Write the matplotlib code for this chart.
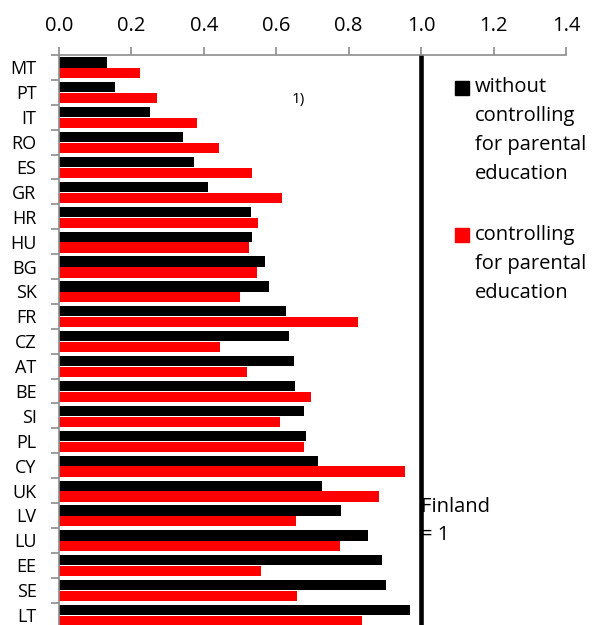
import numpy as np
import matplotlib
matplotlib.use("Agg")
import matplotlib.pyplot as plt
from matplotlib.patches import Rectangle

plt.rcParams['font.family'] = ['Open Sans', 'DejaVu Sans']

# Данные: индекс относительно Финляндии (= 1)
countries = ['MT', 'PT', 'IT', 'RO', 'ES', 'GR', 'HR', 'HU', 'BG', 'SK', 'FR', 'CZ',
             'AT', 'BE', 'SI', 'PL', 'CY', 'UK', 'LV', 'LU', 'EE', 'SE', 'LT']
without_ctrl = [0.132, 0.156, 0.253, 0.342, 0.373, 0.411, 0.530, 0.533, 0.570, 0.580,
                0.626, 0.635, 0.650, 0.652, 0.678, 0.682, 0.715, 0.727, 0.779, 0.854,
                0.893, 0.902, 0.970]
with_ctrl = [0.224, 0.270, 0.381, 0.441, 0.532, 0.615, 0.550, 0.525, 0.547, 0.500,
             0.825, 0.445, 0.519, 0.696, 0.611, 0.677, 0.955, 0.885, 0.655, 0.776,
             0.558, 0.658, 0.836]
x_ticks = [0.0, 0.2, 0.4, 0.6, 0.8, 1.0, 1.2, 1.4]
finland_ref = 1.0

fig = plt.figure(figsize=(5.94, 6.25), dpi=100)
ax = fig.add_axes([0.099, -0.004, 0.854, 0.916])

y = np.arange(len(countries))
h = 0.41
ax.barh(y - 0.2, without_ctrl, height=h, color='black')
ax.barh(y + 0.235, with_ctrl, height=h, color='#ff0000')

ax.axvline(finland_ref, color='black', lw=3.3)

ax.set_xlim(0, 1.4)
ax.set_ylim(len(countries) - 0.5, -0.5)

grey = '#8c8c8c'
ax.xaxis.tick_top()
ax.set_xticks(x_ticks)
ax.set_xticklabels(['%.1f' % t for t in x_ticks])
ax.tick_params(axis='x', colors=grey, labelcolor='black', length=6, width=1.2,
               pad=8, labelsize=14.5)

# деления по границам категорий, подписи по центрам
ax.set_yticks(np.arange(len(countries) + 1) - 0.5)
ax.set_yticklabels([])
ax.set_yticks(y, minor=True)
ax.set_yticklabels(countries, minor=True)
ax.tick_params(axis='y', which='major', colors=grey, length=6, width=1.2)
ax.tick_params(axis='y', which='minor', length=0, pad=16, labelsize=13)

for s in ['right', 'bottom']:
    ax.spines[s].set_visible(False)
for s in ['left', 'top']:
    ax.spines[s].set_color(grey)
    ax.spines[s].set_linewidth(1.2)

# легенда
W, H = 594.0, 625.0
fig.patches.append(Rectangle((455 / W, 1 - 95 / H), 14 / W, 14 / H,
                             transform=fig.transFigure, color='black'))
fig.text(475 / W, 1 - 77 / H, 'without\ncontrolling\nfor parental\neducation',
         fontsize=14.5, va='top', ha='left', linespacing=1.6)
fig.patches.append(Rectangle((455 / W, 1 - 242 / H), 14 / W, 14 / H,
                             transform=fig.transFigure, color='#ff0000'))
fig.text(475 / W, 1 - 225 / H, 'controlling\nfor parental\neducation',
         fontsize=14.5, va='top', ha='left', linespacing=1.6)

fig.text(292 / W, 1 - 100 / H, '1)', fontsize=11, va='center', ha='left')
fig.text(421 / W, 1 - 521 / H, 'Finland\n= 1', fontsize=14.5, va='center',
         ha='left', linespacing=1.6)

plt.savefig("out.png", dpi=100)
